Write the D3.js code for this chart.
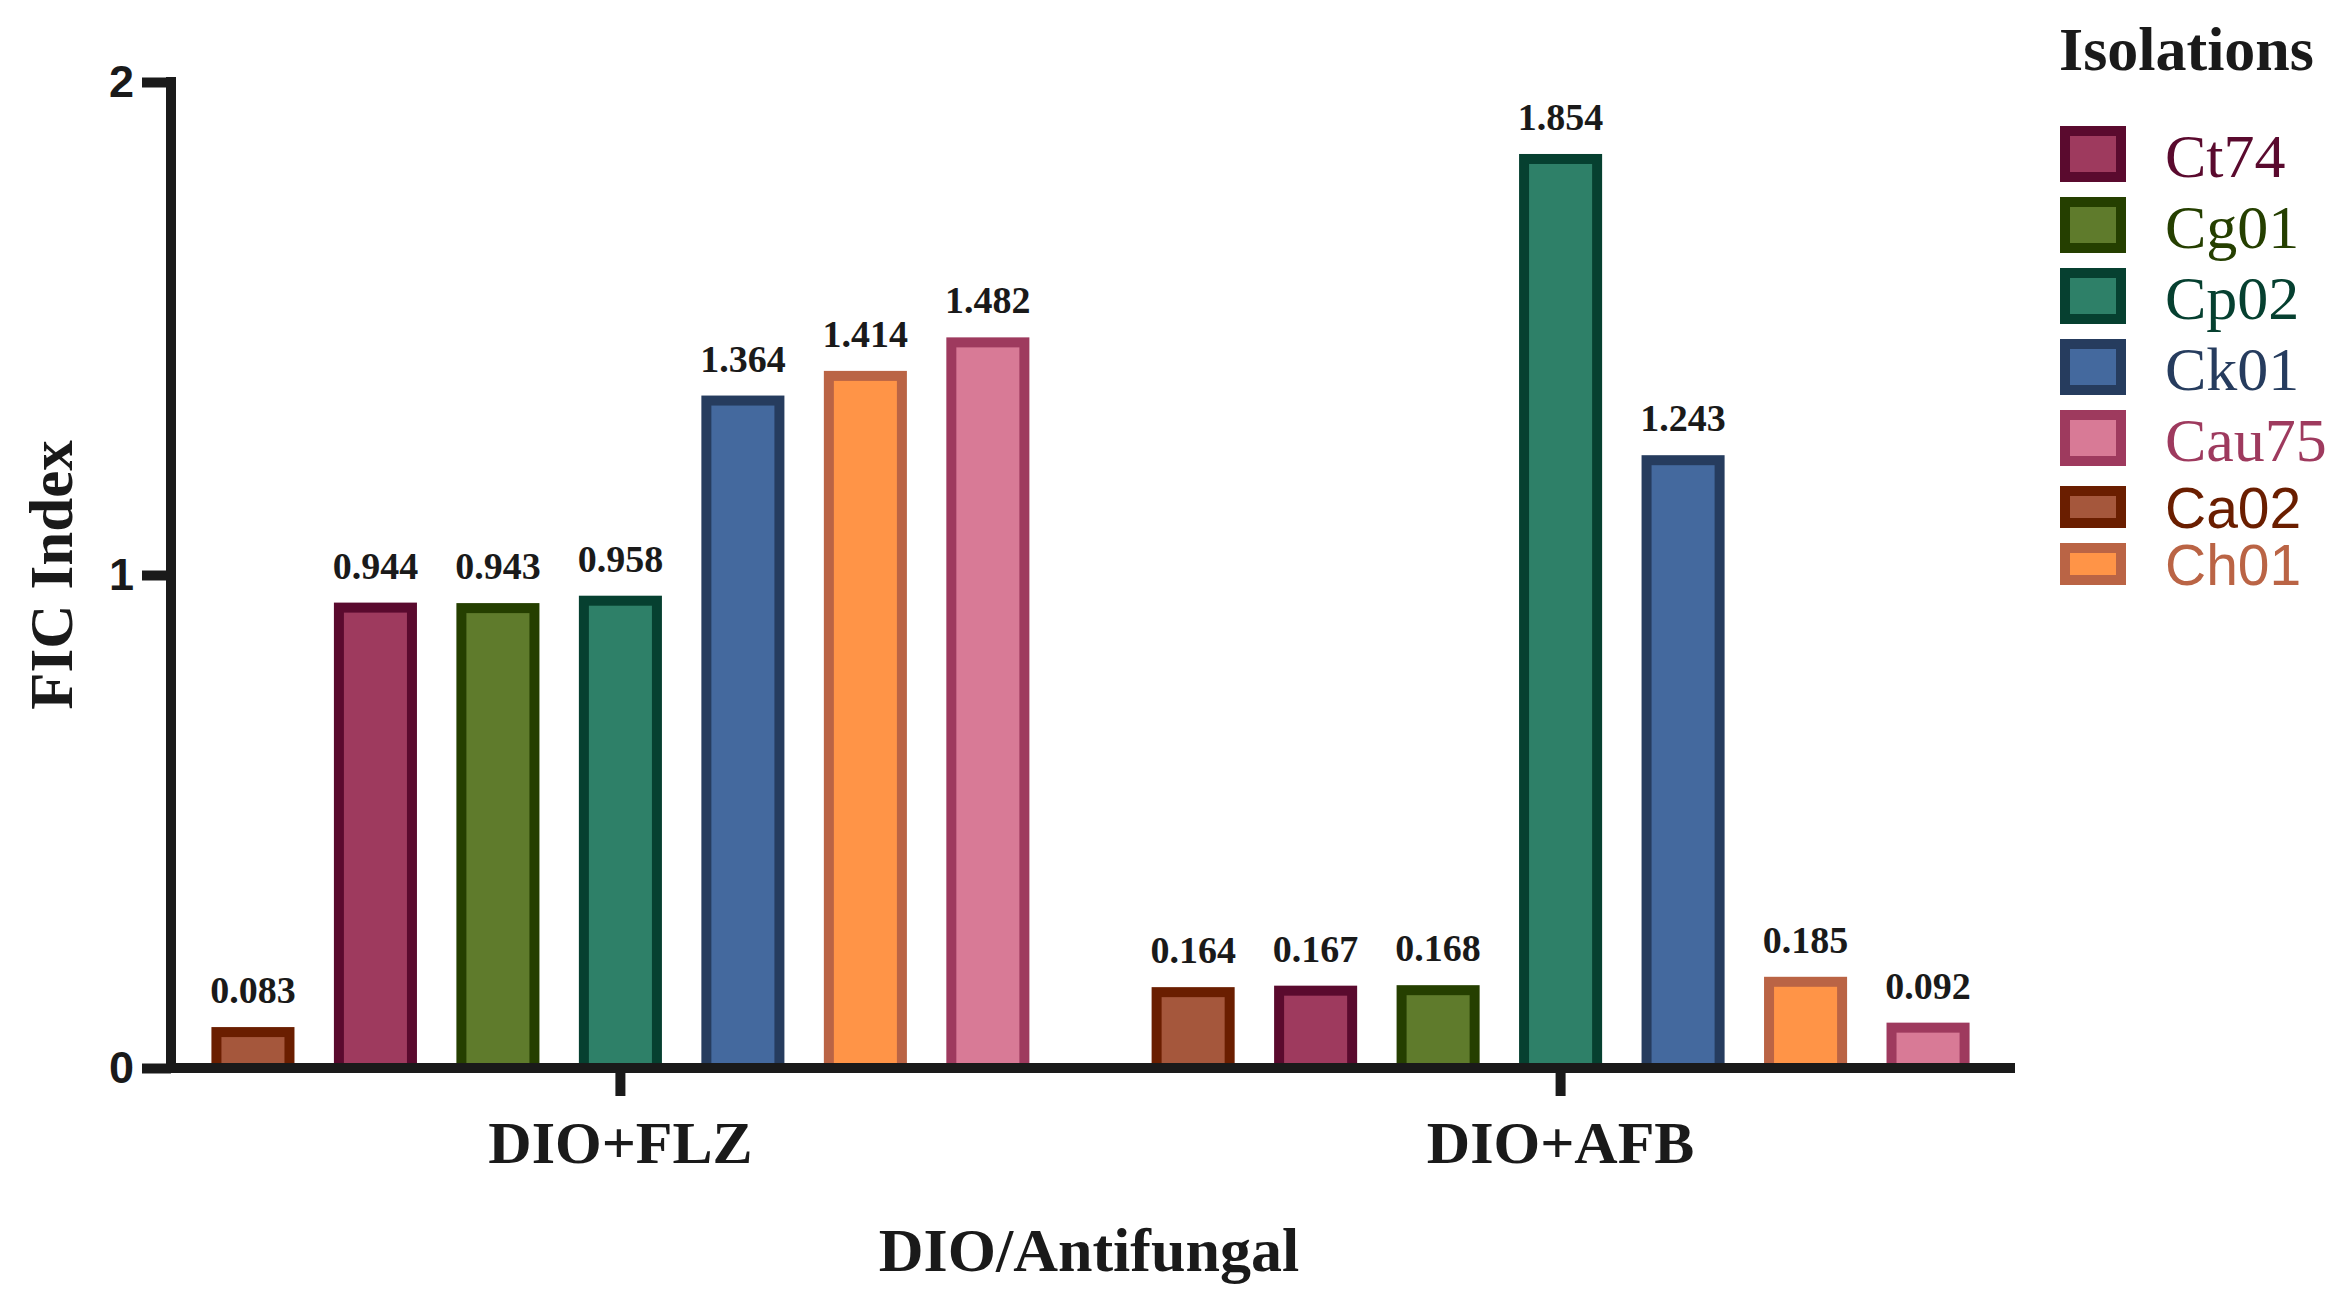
<!DOCTYPE html>
<html>
<head>
<meta charset="utf-8">
<script src="https://cdn.jsdelivr.net/npm/d3@7"></script>
<style>
  body { margin: 0; background: #fff; }
  svg { display: block; }
</style>
</head>
<body>
<div id="chart"></div>
<script>
// data
const groups = ["DIO+FLZ", "DIO+AFB"];
const isolates = ["Ca02", "Ct74", "Cg01", "Cp02", "Ck01", "Ch01", "Cau75"];
const flzValues = [0.083, 0.944, 0.943, 0.958, 1.364, 1.414, 1.482];
const afbValues = [0.164, 0.167, 0.168, 1.854, 1.243, 0.185, 0.092];
const legendOrder = ["Ct74", "Cg01", "Cp02", "Ck01", "Cau75", "Ca02", "Ch01"];
const yTicks = [0, 1, 2];

// colours per isolate (same order as isolates)
const fillColors = ["#A5573C", "#9E3A5E", "#5F7B2C", "#2E8068", "#44699E", "#FF9447", "#D87A96"];
const strokeColors = ["#6A1E00", "#5A0A2E", "#253F00", "#064030", "#263C5E", "#BA6445", "#9E3A5E"];

const serif = "'Liberation Serif', 'DejaVu Serif', serif";
const sans = "'Liberation Sans', Arial, sans-serif";
const ink = "#1a1a1a";

const width = 2350, height = 1310;
const svg = d3.select("#chart").append("svg")
    .attr("width", width)
    .attr("height", height);

svg.append("rect").attr("width", width).attr("height", height).attr("fill", "#fff");

// table: one row per group
const rows = groups.map((g, gi) => {
    const vals = gi === 0 ? flzValues : afbValues;
    const row = { group: g };
    isolates.forEach((k, i) => row[k] = vals[i]);
    return row;
});

const fill = d3.scaleOrdinal().domain(isolates).range(fillColors);
const stroke = d3.scaleOrdinal().domain(isolates).range(strokeColors);

// scales
const x0 = d3.scaleBand()
    .domain(groups)
    .range([171, 2010])
    .paddingInner(0.13)
    .paddingOuter(0.043);

const x1 = d3.scaleBand()
    .domain(isolates)
    .range([0, x0.bandwidth()])
    .paddingInner(0.322)
    .paddingOuter(0);

const y = d3.scaleLinear()
    .domain([0, 2])
    .range([1068, 82]);

const sw = 10; // outline width

// bars
const grp = svg.selectAll(".grp")
    .data(rows)
  .enter().append("g")
    .attr("class", "grp")
    .attr("transform", d => `translate(${x0(d.group)},0)`);

grp.selectAll("rect")
    .data(d => isolates.map(k => ({ key: k, value: d[k] })))
  .enter().append("rect")
    .attr("x", d => x1(d.key) + sw / 2)
    .attr("y", d => y(d.value) + sw / 2)
    .attr("width", x1.bandwidth() - sw)
    .attr("height", d => y(0) - y(d.value) - sw / 2)
    .attr("fill", d => fill(d.key))
    .attr("stroke", d => stroke(d.key))
    .attr("stroke-width", sw);

grp.selectAll("text.val")
    .data(d => isolates.map(k => ({ key: k, value: d[k] })))
  .enter().append("text")
    .attr("class", "val")
    .attr("x", d => x1(d.key) + x1.bandwidth() / 2)
    .attr("y", d => y(d.value) - 24)
    .attr("text-anchor", "middle")
    .style("font-family", serif)
    .style("font-weight", "bold")
    .style("font-size", "38px")
    .attr("fill", ink)
    .text(d => d3.format(".3f")(d.value));

// y axis
const yAxis = svg.append("g")
    .attr("transform", "translate(171,0)")
    .call(d3.axisLeft(y).tickValues(yTicks).tickFormat(d3.format("d")).tickSize(29).tickPadding(8));
yAxis.select(".domain").remove();
yAxis.selectAll(".tick line").attr("stroke", ink).attr("stroke-width", 10);
yAxis.selectAll(".tick text")
    .attr("fill", ink)
    .style("font-family", sans)
    .style("font-weight", "bold")
    .style("font-size", "45px");
svg.append("line")
    .attr("x1", 171).attr("x2", 171)
    .attr("y1", 77).attr("y2", 1073)
    .attr("stroke", ink).attr("stroke-width", 10);

// x axis
const xAxis = svg.append("g")
    .attr("transform", `translate(0,${y(0)})`)
    .call(d3.axisBottom(x0).tickSize(28).tickSizeOuter(0));
xAxis.select(".domain").remove();
xAxis.selectAll(".tick line").attr("stroke", ink).attr("stroke-width", 10);
xAxis.selectAll(".tick text")
    .attr("y", 95)
    .attr("dy", null)
    .attr("fill", ink)
    .style("font-family", serif)
    .style("font-weight", "bold")
    .style("font-size", "60px");
svg.append("line")
    .attr("x1", 166).attr("x2", 2015)
    .attr("y1", y(0)).attr("y2", y(0))
    .attr("stroke", ink).attr("stroke-width", 10);

// axis titles
svg.append("text")
    .attr("transform", "translate(72,575) rotate(-90)")
    .attr("text-anchor", "middle")
    .style("font-family", serif)
    .style("font-weight", "bold")
    .style("font-size", "61px")
    .attr("fill", ink)
    .text("FIC Index");

svg.append("text")
    .attr("x", 1089)
    .attr("y", 1271)
    .attr("text-anchor", "middle")
    .style("font-family", serif)
    .style("font-weight", "bold")
    .style("font-size", "62px")
    .attr("fill", ink)
    .text("DIO/Antifungal");

// legend
svg.append("text")
    .attr("x", 2059)
    .attr("y", 70)
    .style("font-family", serif)
    .style("font-weight", "bold")
    .style("font-size", "62px")
    .attr("fill", ink)
    .text("Isolations");

const sansLabels = new Set(["Ca02", "Ch01"]);
let rowTop = 126;
const legendRows = legendOrder.map((k, i) => {
    const isSans = sansLabels.has(k);
    const h = isSans ? 42 : 56;
    const row = { key: k, top: rowTop, h: h, sans: isSans };
    const next = legendOrder[i + 1];
    rowTop += h + (next && sansLabels.has(next) && !isSans ? 20 : 15);
    return row;
});

const legend = svg.selectAll(".legend")
    .data(legendRows)
  .enter().append("g")
    .attr("class", "legend");

legend.append("rect")
    .attr("x", 2060 + sw / 2)
    .attr("y", d => d.top + sw / 2)
    .attr("width", 66 - sw)
    .attr("height", d => d.h - sw)
    .attr("fill", d => fill(d.key))
    .attr("stroke", d => stroke(d.key))
    .attr("stroke-width", sw);

legend.append("text")
    .attr("x", 2165)
    .attr("y", d => d.sans ? d.top + d.h : d.top + d.h - 5)
    .style("font-family", d => d.sans ? sans : serif)
    .style("font-size", d => d.sans ? "57px" : "62px")
    .attr("fill", d => stroke(d.key))
    .text(d => d.key);
</script>
</body>
</html>
